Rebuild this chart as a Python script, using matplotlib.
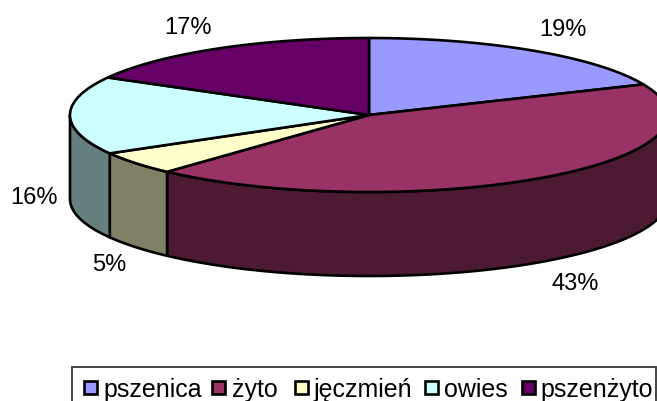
import numpy as np
import matplotlib
matplotlib.use("Agg")
import matplotlib.pyplot as plt
from matplotlib.patches import Polygon, Rectangle

plt.rcParams['font.family'] = ['Liberation Sans', 'DejaVu Sans']

# data
categories = ["pszenica", "żyto", "jęczmień", "owies", "pszenżyto"]
values = [18.5, 43.3, 4.9, 16.4, 16.9]
labels = ["19%", "43%", "5%", "16%", "17%"]
top_colors = ["#9999FF", "#993366", "#FFFFCC", "#CCFFFF", "#660066"]
side_colors = ["#4D4D80", "#4D1A33", "#808066", "#668080", "#330033"]

# layout, in pixels of the reference
CX, CY = 369, 115
RX, RY = 299, 77
DEPTH = 84
label_pos = [(563, 30), (575, 284), (109, 265), (34, 198), (188, 28)]
legend_squares = [84, 212, 295, 425, 522]
legend_texts = [103, 232, 314, 444, 540]

fig = plt.figure(figsize=(6.57, 4.01), dpi=100)
ax = fig.add_axes([0, 0, 1, 1])
ax.set_xlim(0, 657)
ax.set_ylim(401, 0)
ax.axis("off")

def rim(a0, a1, dy=0):
    # angles clockwise from the top of the pie, degrees
    t = np.radians(np.linspace(a0, a1, 200))
    return np.column_stack([CX + RX * np.sin(t), CY - RY * np.cos(t) + dy])

edges = np.concatenate([[0], np.cumsum(values)]) * 360.0 / sum(values)

# side walls, only the front half of the pie shows
for i in range(len(values)):
    a0, a1 = max(edges[i], 90), min(edges[i + 1], 270)
    if a1 <= a0:
        continue
    pts = np.vstack([rim(a0, a1), rim(a0, a1, DEPTH)[::-1]])
    ax.add_patch(Polygon(pts, closed=True, fc=side_colors[i], ec="black",
                         lw=1.9, joinstyle="round"))

# top of the pie
for i in range(len(values)):
    pts = np.vstack([[CX, CY], rim(edges[i], edges[i + 1])])
    ax.add_patch(Polygon(pts, closed=True, fc=top_colors[i], ec="black",
                         lw=1.9, joinstyle="round"))

for txt, (x, y) in zip(labels, label_pos):
    ax.text(x, y, txt, fontsize=17, ha="center", va="center", color="black")

# legend box runs off the picture at the bottom
ax.add_patch(Rectangle((72, 367), 584, 50, fc="white", ec="#444444", lw=1.4))
for i, name in enumerate(categories):
    ax.add_patch(Rectangle((legend_squares[i], 381), 13, 13, fc=top_colors[i],
                           ec="black", lw=1.9))
    ax.text(legend_texts[i], 387.5, name, fontsize=18, ha="left",
            va="center_baseline", color="black")

fig.savefig("out.png", dpi=100)
